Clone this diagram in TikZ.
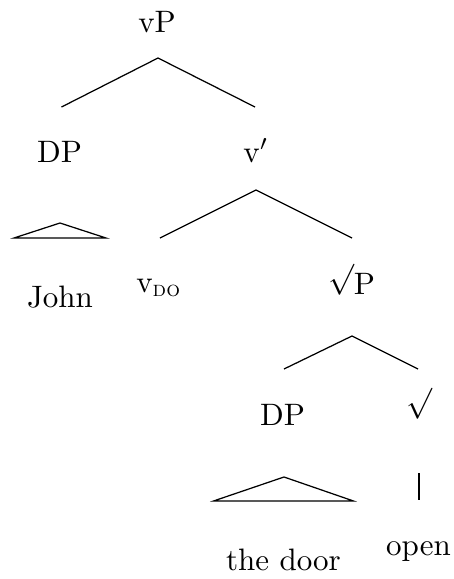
\documentclass[tikz,border=0pt]{standalone}
\usepackage{amsmath}
\usepackage{tikz}
\usetikzlibrary{calc}
\newcommand{\rt}{\raisebox{2pt}{$\surd$}}

\begin{document}
\begin{tikzpicture}[x=0.3226pt,y=-0.3226pt,
    cat/.style={anchor=base,inner sep=0pt}]
  \useasboundingbox (0,0) rectangle (454,579);
  % labels
  \node[cat] (vP) at (157,32) {vP};
  \node[cat] (DPa) at (59.5,162) {DP};
  \node[cat] (vbar) at (256,162) {v$'$};
  \node[cat] (John) at (60,307) {John};
  \node[cat] (vdo) at (159,292) {v\textsubscript{\textsc{do}}};
  \node[cat] (rtP) at (351.5,294) {\rt P};
  \node[cat] (DPb) at (282.5,425) {DP};
  \node[cat] (rt) at (419.5,418) {\rt};
  \node[cat] (door) at (283.5,570) {the door};
  \node[cat] (open) at (418.5,555) {open};
  % branches
  \draw ($(DPa.base)+(2,-55)$) -- ($(vP.base)+(1,26)$) -- ($(vbar.base)+(-1,-55)$);
  \draw ($(vdo.base)+(1,-54)$) -- ($(vbar.base)+(0,28)$) -- ($(rtP.base)+(0.5,-56)$);
  \draw ($(DPb.base)+(1.5,-56)$) -- ($(rtP.base)+(0.5,42)$) -- ($(rt.base)+(-1.5,-49)$);
  \draw ($(rt.base)+(-0.5,55)$) -- ($(open.base)+(0.5,-55)$);
  % roofs
  \draw ($(John.base)+(-46,-69)$) -- ($(DPa.base)+(0.5,61)$) -- ($(John.base)+(46,-69)$) -- cycle;
  \draw ($(door.base)+(-70,-69)$) -- ($(DPb.base)+(1.5,52)$) -- ($(door.base)+(70,-69)$) -- cycle;
\end{tikzpicture}
\end{document}
